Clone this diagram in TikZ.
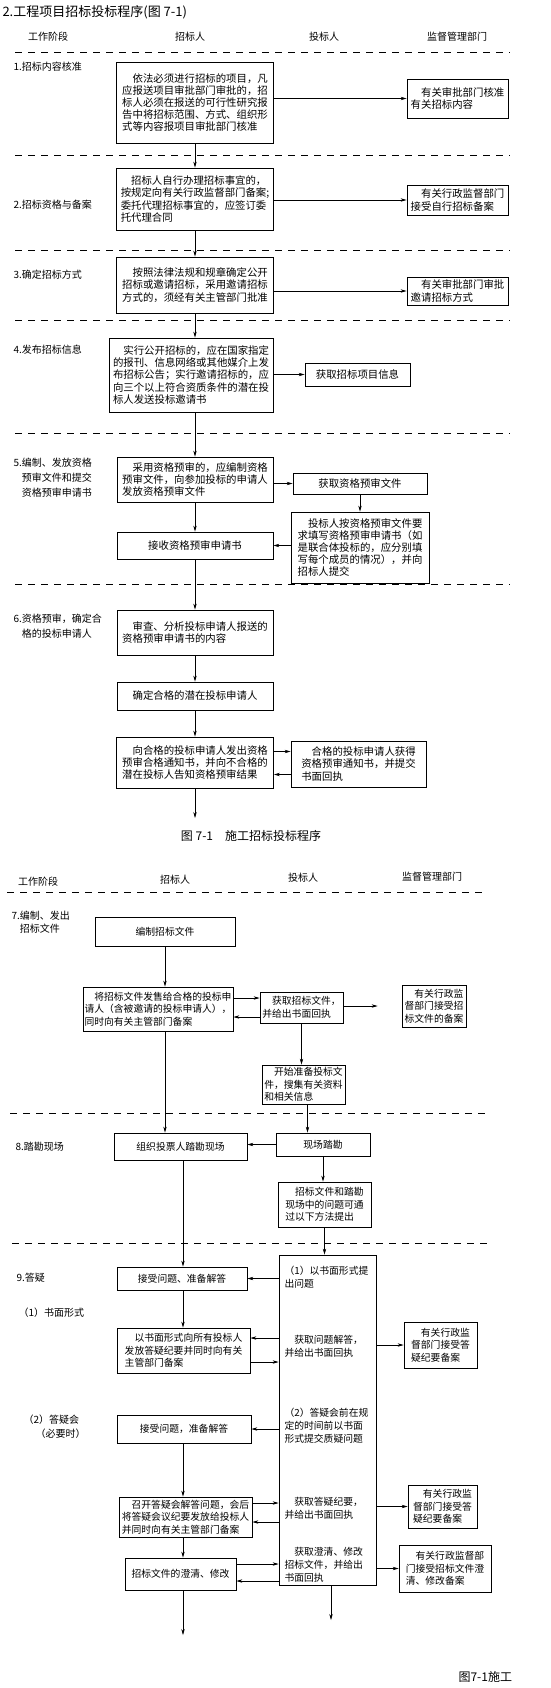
\documentclass[tikz,border=0pt]{standalone}
\usepackage{fontspec}
\setmainfont{Noto Sans CJK SC}
\usepackage{tikz}
\usetikzlibrary{
  arrows.meta,
  positioning
}
\newcommand{\suojin}{\hspace*{1em}}

\begin{document}
\begin{tikzpicture}[
        >={Stealth[length=6pt,width=3.4pt]},
        x=1pt, y=-1pt,
        kuang/.style={draw, line width=0.8pt, inner xsep=2pt, inner ysep=2pt,
                      align=left, font=\fontsize{10.4}{12.2}\selectfont},
        xiaokuang/.style={kuang, font=\fontsize{9.8}{12.6}\selectfont},
        wenzi/.style={anchor=west, align=left, font=\fontsize{9.8}{12.8}\selectfont},
        jieduan/.style={anchor=west, align=left, font=\fontsize{10}{15}\selectfont},
        biaotou/.style={font=\fontsize{10}{12}\selectfont},
        jian/.style={->, line width=0.6pt},
        xuxian/.style={line width=0.7pt, dash pattern=on 7pt off 6pt}
    ]
    \useasboundingbox (0,0) rectangle (551,1688);
    \node[anchor=west, font=\fontsize{13}{15}\selectfont] (title) at (-1,12) {2.工程项目招标投标程序(图 7-1)};

    % first page of the figure
    \node[biaotou] (h1) at (48,37) {工作阶段};
    \node[biaotou] (h2) at (190,37) {招标人};
    \node[biaotou] (h3) at (324,37) {投标人};
    \node[biaotou] (h4) at (457,37) {监督管理部门};
    \draw[xuxian] (15,52) -- (510,52); \draw[xuxian] (15,155) -- (510,155);
    \draw[xuxian] (15,250) -- (510,250); \draw[xuxian] (15,320) -- (510,320);
    \draw[xuxian] (15,433) -- (510,433); \draw[xuxian] (15,584) -- (510,584);

    \node[jieduan] (s1) at (10,67) {1.招标内容核准};
    \node[jieduan] (s2) at (10,205) {2.招标资格与备案};
    \node[jieduan] (s3) at (10,275) {3.确定招标方式};
    \node[jieduan] (s4) at (10,350) {4.发布招标信息};
    \node[jieduan] (s5) at (10,478) {5.编制、发放资格\\\phantom{5.}预审文件和提交\\\phantom{5.}资格预审申请书};
    \node[jieduan] (s6) at (10,626) {6.资格预审，确定合\\\phantom{6.}格的投标申请人};

    \node[kuang, minimum width=157pt, minimum height=81pt] (b1) at (195,102.5)
        {\suojin 依法必须进行招标的项目，凡\\应报送项目审批部门审批的，招\\标人必须在报送的可行性研究报\\告中将招标范围、方式、组织形\\式等内容报项目审批部门核准};
    \node[kuang, minimum width=101pt, minimum height=39pt] (r1) at (457.5,98.5)
        {\suojin 有关审批部门核准\\有关招标内容};
    \node[kuang, minimum width=157pt, minimum height=62pt] (b2) at (195,199)
        {\suojin 招标人自行办理招标事宜的，\\按规定向有关行政监督部门备案;\\委托代理招标事宜的，应签订委\\托代理合同};
    \node[kuang, minimum width=101pt, minimum height=30pt] (r2) at (457.5,200)
        {\suojin 有关行政监督部门\\接受自行招标备案};
    \node[kuang, minimum width=157pt, minimum height=56pt] (b3) at (195,285)
        {\suojin 按照法律法规和规章确定公开\\招标或邀请招标，采用邀请招标\\方式的，须经有关主管部门批准};
    \node[kuang, minimum width=101pt, minimum height=28pt] (r3) at (457.5,291)
        {\suojin 有关审批部门审批\\邀请招标方式};
    \node[kuang, minimum width=164pt, minimum height=74pt] (b4) at (191,375)
        {\suojin 实行公开招标的，应在国家指定\\的报刊、信息网络或其他媒介上发\\布招标公告；实行邀请招标的，应\\向三个以上符合资质条件的潜在投\\标人发送投标邀请书};
    \node[kuang, minimum width=105pt, minimum height=23pt] (r4) at (357.5,374.5) {获取招标项目信息};
    \node[kuang, minimum width=156pt, minimum height=45pt] (b5) at (195,479.5)
        {\suojin 采用资格预审的，应编制资格\\预审文件，向参加投标的申请人\\发放资格预审文件};
    \node[kuang, minimum width=134pt, minimum height=21pt] (r5a) at (360,483.5) {获取资格预审文件};
    \node[kuang, minimum width=138pt, minimum height=71pt] (r5b) at (360,547.5)
        {\suojin 投标人按资格预审文件要\\求填写资格预审申请书（如\\是联合体投标的，应分别填\\写每个成员的情况），并向\\招标人提交};
    \node[kuang, minimum width=156pt, minimum height=27pt] (b5b) at (195,545.5) {接收资格预审申请书};
    \node[kuang, minimum width=156pt, minimum height=45pt] (b6a) at (195,632.5)
        {\suojin 审查、分析投标申请人报送的\\资格预审申请书的内容};
    \node[kuang, minimum width=156pt, minimum height=28pt] (b6b) at (195,696) {确定合格的潜在投标申请人};
    \node[kuang, minimum width=157pt, minimum height=51pt] (b6c) at (195,762.5)
        {\suojin 向合格的投标申请人发出资格\\预审合格通知书，并向不合格的\\潜在投标人告知资格预审结果};
    \node[kuang, minimum width=135pt, minimum height=46pt] (r6) at (358.5,764)
        {\suojin 合格的投标申请人获得\\资格预审通知书，并提交\\书面回执};
    \coordinate (lz) at (195,0);
    \coordinate (e1) at (195,818);

    \draw[jian] (lz |- b1.south) -- (lz |- b2.north); \draw[jian] (lz |- b2.south) -- (lz |- b3.north);
    \draw[jian] (lz |- b3.south) -- (lz |- b4.north); \draw[jian] (lz |- b4.south) -- (lz |- b5.north);
    \draw[jian] (lz |- b5.south) -- (lz |- b5b.north); \draw[jian] (lz |- b5b.south) -- (lz |- b6a.north);
    \draw[jian] (lz |- b6a.south) -- (lz |- b6b.north); \draw[jian] (lz |- b6b.south) -- (lz |- b6c.north);
    \draw[jian] (lz |- b6c.south) -- (e1);
    \draw[jian] (b1.east |- r1) -- (r1.west);
    \draw[jian] (b2.east |- r2) -- (r2.west);
    \draw[jian] (b3.east |- r3) -- (r3.west);
    \draw[jian] (b4.east |- r4) -- (r4.west);
    \draw[jian] (b5.east |- r5a) -- (r5a.west);
    \draw[jian] (r5a) -- (r5b);
    \draw[jian] (r5b.west |- b5b) -- (b5b.east);
    \draw[jian] ([yshift=11pt]b6c.east) -- ([yshift=11pt]b6c.east -| r6.west);
    \draw[jian] ([yshift=-12pt]b6c.east -| r6.west) -- ([yshift=-12pt]b6c.east);
    \node[font=\fontsize{12}{14}\selectfont] (cap) at (251,836) {图 7-1\quad 施工招标投标程序};

    % second page of the figure
    \node[biaotou] (g1) at (38,882) {工作阶段};
    \node[biaotou] (g2) at (175,880) {招标人};
    \node[biaotou] (g3) at (303,878) {投标人};
    \node[biaotou] (g4) at (432,877) {监督管理部门};
    \draw[xuxian] (7,892) -- (483,892); \draw[xuxian] (10,1113) -- (486,1113);
    \draw[xuxian] (12,1243) -- (490,1243);

    \node[jieduan, font=\fontsize{10}{13.5}\selectfont] (s7) at (8,922) {7.编制、发出\\\phantom{7.}招标文件};
    \node[jieduan] (s8) at (12,1147) {8.踏勘现场};
    \node[jieduan] (s9) at (13,1278) {9.答疑};
    \node[jieduan] (s91) at (15,1313) {（1）书面形式};
    \node[jieduan, font=\fontsize{10}{14}\selectfont] (s92) at (20,1427) {（2）答疑会\\\hspace*{12pt}（必要时）};

    \node[xiaokuang, minimum width=140pt, minimum height=29pt] (b7a) at (165,931.5) {编制招标文件};
    \node[xiaokuang, inner xsep=1pt, minimum width=150pt, minimum height=44pt] (b7b) at (158,1009)
        {\suojin 将招标文件发售给合格的投标申\\请人（含被邀请的投标申请人），\\同时向有关主管部门备案};
    \node[xiaokuang, minimum width=83pt, minimum height=31pt] (b7c) at (301.5,1007.5)
        {\suojin 获取招标文件，\\并给出书面回执};
    \node[xiaokuang, minimum width=64pt, minimum height=42pt] (r7) at (434,1006)
        {\suojin 有关行政监\\督部门接受招\\标文件的备案};
    \node[xiaokuang, minimum width=83pt, minimum height=39pt] (b7e) at (303.5,1084.5)
        {\suojin 开始准备投标文\\件，搜集有关资料\\和相关信息};
    \node[xiaokuang, minimum width=133pt, minimum height=27pt] (b8a) at (180.5,1146.5) {组织投票人踏勘现场};
    \node[xiaokuang, minimum width=94pt, minimum height=23pt] (b8b) at (323,1144.5) {现场踏勘};
    \node[xiaokuang, minimum width=93pt, minimum height=45pt] (b8c) at (324.5,1204.5)
        {\suojin 招标文件和踏勘\\现场中的问题可通\\过以下方法提出};

    % tall box of the bidder during the questions
    \node[xiaokuang, minimum width=97pt, minimum height=330pt] (tb) at (327.5,1420) {};
    \node[wenzi] (q1) at (281,1277.5) {（1）以书面形式提\\出问题};
    \node[wenzi] (q2) at (281,1346.5) {\suojin 获取问题解答，\\并给出书面回执};
    \node[wenzi] (q3) at (281,1426) {（2）答疑会前在规\\定的时间前以书面\\形式提交质疑问题};
    \node[wenzi] (q4) at (281,1508) {\suojin 获取答疑纪要，\\并给出书面回执};
    \node[wenzi] (q5) at (281,1565) {\suojin 获取澄清、修改\\招标文件，并给出\\书面回执};

    \node[xiaokuang, minimum width=130pt, minimum height=23pt] (b9a) at (182,1278.5) {接受问题、准备解答};
    \node[xiaokuang, minimum width=133pt, minimum height=45pt] (b9b) at (183.5,1350.5)
        {\suojin 以书面形式向所有投标人\\发放答疑纪要并同时向有关\\主管部门备案};
    \node[xiaokuang, minimum width=73pt, minimum height=46pt] (r9a) at (440.5,1345)
        {\suojin 有关行政监\\督部门接受答\\疑纪要备案};
    \node[xiaokuang, minimum width=134pt, minimum height=28pt] (b9d) at (184,1429) {接受问题，准备解答};
    \node[xiaokuang, minimum width=133pt, minimum height=40pt] (b9e) at (185.5,1517)
        {\suojin 召开答疑会解答问题，会后\\将答疑会议纪要发放给投标人\\并同时向有关主管部门备案};
    \node[xiaokuang, minimum width=69pt, minimum height=43pt] (r9b) at (442.5,1506.5)
        {\suojin 有关行政监\\督部门接受答\\疑纪要备案};
    \node[xiaokuang, minimum width=111pt, minimum height=32pt] (b9h) at (180.5,1574) {招标文件的澄清、修改};
    \node[xiaokuang, minimum width=92pt, minimum height=47pt] (r9c) at (445,1568.5)
        {\suojin 有关行政监督部\\门接受招标文件澄\\清、修改备案};
    \coordinate (lx) at (183,0);
    \coordinate (e2) at (331,1620);
    \coordinate (e3) at (183,1635);

    \draw[jian] (b7a) -- (b7a |- b7b.north);
    \draw[jian] ([yshift=11pt]b7b.east) -- ([yshift=11pt]b7b.east -| b7c.west);
    \draw[jian] ([yshift=-8pt]b7b.east -| b7c.west) -- ([yshift=-8pt]b7b.east);
    \draw[jian, shorten >=24pt] (b7c.east |- r7) -- (r7.west);
    \draw[jian] (b7c) -- (b7c |- b7e.north);
    \draw[jian] (b7a |- b7b.south) -- (b7a |- b8a.north);
    \draw[jian] ([xshift=4pt]b7e.south) -- ([xshift=4pt]b7e.south |- b8b.north);
    \draw[jian] (b8b.west) -- (b8b.west -| b8a.east);
    \draw[jian] (b8b.south) -- (b8b.south |- b8c.north);
    \draw[jian] (b8c.south) -- (b8c.south |- tb.north);
    \draw[jian] (lx |- b8a.south) -- (lx |- b9a.north); \draw[jian] (lx |- b9a.south) -- (lx |- b9b.north);
    \draw[jian] (lx |- b9d.south) -- (lx |- b9e.north); \draw[jian] (lx |- b9e.south) -- (lx |- b9h.north);
    \draw[jian] (lx |- b9h.south) -- (e3);
    \draw[jian] (tb.south -| e2) -- (e2);
    \draw[jian] (tb.west |- b9a) -- (b9a.east);
    \draw[jian] ([yshift=12.5pt]b9b.east -| tb.west) -- ([yshift=12.5pt]b9b.east);
    \draw[jian] ([yshift=-11.5pt]b9b.east) -- ([yshift=-11.5pt]b9b.east -| tb.west);
    \draw[jian] (tb.east |- r9a) -- (r9a.west);
    \draw[jian] (tb.west |- b9d) -- (b9d.east);
    \draw[jian] ([yshift=14pt]b9e.east) -- ([yshift=14pt]b9e.east -| tb.west);
    \draw[jian] ([yshift=-5pt]b9e.east -| tb.west) -- ([yshift=-5pt]b9e.east);
    \draw[jian] (tb.east |- r9b) -- (r9b.west);
    \draw[jian] ([yshift=10pt]b9h.east) -- ([yshift=10pt]b9h.east -| tb.west);
    \draw[jian] ([yshift=-7pt]b9h.east -| tb.west) -- ([yshift=-7pt]b9h.east);
    \draw[jian] (tb.east |- r9c) -- (r9c.west);
    \node[anchor=west, font=\fontsize{12}{14}\selectfont] (foot) at (455,1677) {图7-1施工};
\end{tikzpicture}
\end{document}
